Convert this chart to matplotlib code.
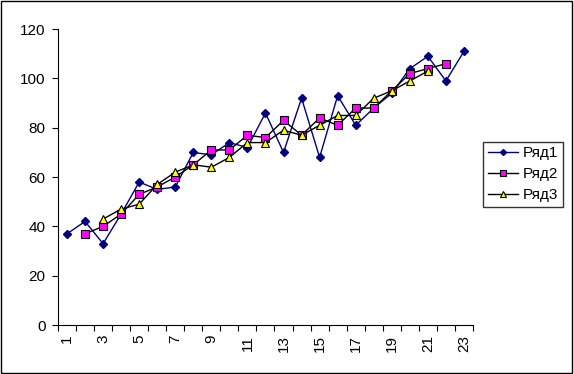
import numpy as np
import matplotlib
matplotlib.use('Agg')
import matplotlib.pyplot as plt
from matplotlib.patches import Rectangle

plt.rcParams['font.family'] = ['Liberation Sans', 'DejaVu Sans']

x1 = list(range(1, 24))
s1 = [37, 42, 33, 45, 58, 55, 56, 70, 69, 74, 72, 86, 70, 92, 68, 93, 81, 88, 94, 104, 109, 99, 111]
x2 = list(range(2, 23))
s2 = [37, 40, 45, 53, 56, 60, 65, 71, 71, 77, 76, 83, 77, 84, 81, 88, 88, 95, 102, 104, 106]
x3 = list(range(3, 22))
s3 = [43, 47, 49, 57, 62, 65, 64, 68, 74, 74, 79, 77, 81, 85, 85, 92, 95, 99, 103]
names = ['Ряд1', 'Ряд2', 'Ряд3']

fig = plt.figure(figsize=(5.74, 3.74), dpi=100)
ax = fig.add_axes([0.101, 0.131, 0.723, 0.791])

ax.plot(x1, s1, color='#000080', lw=1, marker='D', ms=3.8, mfc='#000080', mec='#000080', label=names[0])
ax.plot(x2, s2, color='black', lw=1, marker='s', ms=5.7, mfc='#ff00ff', mec='black', mew=0.8, label=names[1])
ax.plot(x3, s3, color='black', lw=1, marker='^', ms=5.5, mfc='#ffff00', mec='black', mew=0.8, label=names[2])

ax.set_xlim(0.5, 23.5)
ax.set_ylim(0, 120)
ax.set_yticks(np.arange(0, 121, 20))
ax.set_xticks(np.arange(0.5, 24, 1))
ax.set_xticklabels([])
ax.set_xticks(range(1, 24, 2), minor=True)
ax.set_xticklabels([str(i) for i in range(1, 24, 2)], minor=True, rotation=90)
ax.tick_params(axis='x', which='minor', length=0, pad=7, labelsize=11)
ax.tick_params(axis='x', which='major', direction='out', length=4)
ax.tick_params(axis='y', direction='out', length=4, pad=5, labelsize=11)
ax.spines['top'].set_visible(False)
ax.spines['right'].set_visible(False)

leg = ax.legend(loc='upper left', bbox_to_anchor=(1.025, 0.62), fontsize=11, frameon=True,
                fancybox=False, edgecolor='black', handlelength=2.0, borderpad=0.3,
                labelspacing=0.45, handletextpad=0.3, borderaxespad=0, markerscale=0.8)
leg.get_frame().set_linewidth(1)

fig.patches.append(Rectangle((0.002, 0.003), 0.995, 0.993, transform=fig.transFigure,
                             fill=False, edgecolor='black', lw=1))

fig.savefig('out.png', dpi=100)
